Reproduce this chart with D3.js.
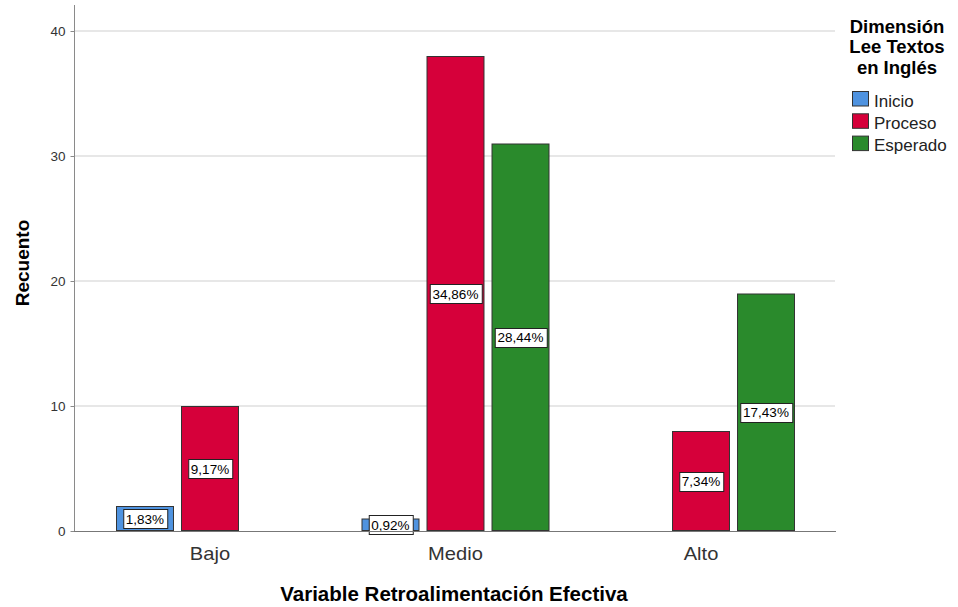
<!DOCTYPE html>
<html><head><meta charset="utf-8">
<script src="https://cdn.jsdelivr.net/npm/d3@7"></script>
<style>body{margin:0;background:#fff}svg{display:block;font-family:Arial,"Liberation Sans",sans-serif}</style>
</head><body>
<svg id="c" width="958" height="607"></svg>
<script>
const categories = ["Bajo", "Medio", "Alto"];
const seriesNames = ["Inicio", "Proceso", "Esperado"];
const inicio = [2, 1, 0];
const proceso = [10, 38, 8];
const esperado = [0, 31, 19];
const labelsInicio = ["1,83%", "0,92%", null];
const labelsProceso = ["9,17%", "34,86%", "7,34%"];
const labelsEsperado = [null, "28,44%", "17,43%"];
const yTicks = [0, 10, 20, 30, 40];
const colors = ["#4f93e0", "#d6003a", "#2a8a2c"];

const values = [inicio, proceso, esperado];
const labels = [labelsInicio, labelsProceso, labelsEsperado];

const svg = d3.select("#c");
const y = d3.scaleLinear().domain([0, 42.08]).range([531, 5]);
const x0 = d3.scaleBand().domain(categories).range([87.25, 823.75]).padding(0);
const x1 = d3.scaleBand().domain(seriesNames).range([28.75, 216.75]).paddingInner(0.108).paddingOuter(0);

// gridlines
svg.append("g").selectAll("line").data(yTicks.filter(d => d > 0)).join("line")
  .attr("x1", 75).attr("x2", 835).attr("y1", d => y(d)).attr("y2", d => y(d))
  .attr("stroke", "#cfcfcf").attr("stroke-width", 1);

// y axis
const yAxis = d3.axisLeft(y).tickValues(yTicks).tickSize(4).tickPadding(5).tickFormat(d3.format("d"));
const ya = svg.append("g").attr("transform", "translate(74.5,0)").call(yAxis);
ya.select(".domain").attr("stroke", "#8a8a8a").attr("d", "M0,5V531");
ya.selectAll(".tick line").attr("stroke", "#8a8a8a");
ya.selectAll(".tick text").attr("font-size", 13.5).attr("fill", "#333").attr("dy", "0.36em");

// bars
const groups = svg.append("g").selectAll("g").data(categories).join("g")
  .attr("transform", c => `translate(${x0(c)},0)`);
groups.each(function(c, ci) {
  const g = d3.select(this);
  seriesNames.forEach((s, si) => {
    const v = values[si][ci];
    if (v > 0) {
      g.append("rect").attr("x", x1(s) + 0.5).attr("y", y(v) + 0.5)
        .attr("width", x1.bandwidth() - 1).attr("height", y(0) - y(v) - 1)
        .attr("fill", colors[si]).attr("stroke", "#333").attr("stroke-width", 1);
    }
  });
});

// x baseline
svg.append("line").attr("x1", 74).attr("x2", 836).attr("y1", 531.5).attr("y2", 531.5)
  .attr("stroke", "#777").attr("stroke-width", 1);

// data labels
groups.each(function(c, ci) {
  const g = d3.select(this);
  seriesNames.forEach((s, si) => {
    const v = values[si][ci];
    const lab = labels[si][ci];
    if (lab && v > 0) {
      const cx = x1(s) + x1.bandwidth() / 2;
      const cy = (y(v) + y(0)) / 2;
      const t = g.append("text").attr("x", cx).attr("y", cy + 5)
        .attr("text-anchor", "middle").attr("font-size", 13.5).attr("fill", "#000").text(lab);
      const bb = t.node().getBBox();
      g.insert("rect", function() { return t.node(); })
        .attr("x", Math.round(cx - bb.width / 2 - 3) + 0.5).attr("y", Math.round(cy - 9.5) + 0.5)
        .attr("width", Math.round(bb.width + 6)).attr("height", 19)
        .attr("fill", "#fff").attr("stroke", "#222").attr("stroke-width", 1);
    }
  });
});

// x category labels (slightly wide face as in reference)
svg.append("g").selectAll("text").data(categories).join("text")
  .attr("transform", c => `translate(${x0(c) + x0.bandwidth() / 2},560) scale(1.15,1)`)
  .attr("text-anchor", "middle").attr("font-size", 17.5).attr("fill", "#333").text(c => c);

// axis titles
svg.append("text").attr("x", 454).attr("y", 601).attr("text-anchor", "middle")
  .attr("font-size", 20.5).attr("font-weight", "bold").attr("fill", "#000")
  .text("Variable Retroalimentación Efectiva");
svg.append("text").attr("transform", "translate(29,263) rotate(-90)").attr("text-anchor", "middle")
  .attr("font-size", 19).attr("font-weight", "bold").attr("fill", "#000").text("Recuento");

// legend
const legTitle = ["Dimensión", "Lee Textos", "en Inglés"];
svg.append("g").selectAll("text").data(legTitle).join("text")
  .attr("x", 897).attr("y", (d, i) => 33 + i * 20.3).attr("text-anchor", "middle")
  .attr("font-size", 18.5).attr("font-weight", "bold").attr("fill", "#000").text(d => d);
const li = svg.append("g").selectAll("g").data(seriesNames).join("g")
  .attr("transform", (d, i) => `translate(852,${91 + i * 22.3})`);
li.append("rect").attr("x", 0.5).attr("y", 0.5).attr("width", 16).attr("height", 14.5)
  .attr("fill", (d, i) => colors[i]).attr("stroke", "#333");
li.append("text").attr("x", 22).attr("y", 15.5).attr("font-size", 17).attr("fill", "#222").text(d => d);
</script>
</body></html>
